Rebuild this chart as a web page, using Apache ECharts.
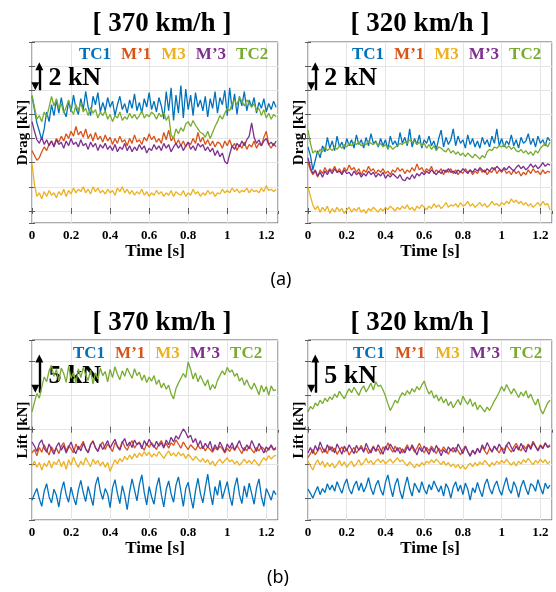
<!DOCTYPE html>
<html>
<head>
<meta charset="utf-8">
<script src="https://cdn.jsdelivr.net/npm/echarts@6/dist/echarts.min.js"></script>
<style>
  html, body { margin: 0; padding: 0; background: #ffffff; }
  #chart { width: 556px; height: 592px; }
</style>
</head>
<body>
<div id="chart"></div>
<script>
// Sampling step of every force history [s]
const timeStep = 0.0125;
const xTickValues = [0, 0.2, 0.4, 0.6, 0.8, 1, 1.2];
const lineNames = ['TC1', 'M’1', 'M3', 'M’3', 'TC2'];
const lineColors = ['#0072BD', '#D95319', '#EDB120', '#7E2F8E', '#77AC30'];
const panelTitles = ['[ 370 km/h ]', '[ 320 km/h ]', '[ 370 km/h ]', '[ 320 km/h ]'];
const scaleBarLabels = ['2 kN', '2 kN', '5 kN', '5 kN'];
const scaleBarSpans = [[10, 12], [10, 12], [5.4, 10.4], [5.4, 10.4]];

// ---- Drag, 370 km/h [kN] ----
const drag370TC1 = [9.5,8.4,7.3,6.6,5.9,6.8,8.2,7.4,8.8,7.9, 9.2,8.1,9.4,8.3,7.8,9.1,8.2,9.6,8.5,8.0,
  9.3,8.4,9.9,8.6,7.9,9.5,8.8,9.8,8.2,9.0, 8.3,9.4,8.6,9.1,7.9,8.8,9.5,8.4,8.9,8.1,
  9.2,8.5,9.7,8.3,9.0,8.1,9.3,8.6,9.8,8.4, 9.1,8.2,9.4,8.7,7.6,9.9,8.3,10.2,7.5,9.6,
  8.1,10.4,7.7,10.1,8.4,9.6,7.9,9.8,8.6,9.2, 8.3,9.5,7.8,9.3,8.5,9.9,8.1,9.4,8.8,10.0,
  7.9,10.2,8.4,9.7,8.0,9.5,8.7,9.9,8.3,9.2, 8.6,9.4,8.1,9.0,8.5,9.3,8.2,8.9,8.4,9.1, 8.6];
const drag370M1 = [5.0,4.6,4.2,4.4,4.9,5.3,5.0,5.5,5.8,5.4, 6.0,5.7,6.2,5.8,6.4,6.0,6.6,6.2,7.0,6.3,
  6.6,6.1,6.8,6.0,6.4,5.8,6.5,5.9,6.2,5.7, 6.3,5.8,6.1,5.5,6.0,5.6,6.2,5.7,5.9,5.4,
  6.0,5.6,6.3,5.7,5.9,5.5,6.1,5.8,6.4,5.9, 6.2,5.7,6.0,5.6,6.5,5.9,6.7,5.8,6.1,5.5,
  5.9,5.4,5.8,5.3,5.7,5.5,6.0,5.6,6.5,5.7, 6.1,5.5,5.9,5.4,5.8,5.3,5.7,5.6,5.2,5.8,
  5.4,5.9,5.3,5.6,5.0,5.5,5.2,5.7,5.1,5.5, 5.3,5.8,5.2,5.6,5.4,6.1,6.6,5.5,5.2,5.6, 5.3];
const drag370M3 = [3.9,2.2,1.2,1.5,1.0,1.6,1.2,1.7,1.3,1.5, 1.1,1.6,1.3,1.8,1.2,1.7,1.4,1.9,1.5,1.8,
  1.6,2.0,1.5,1.8,1.4,2.0,1.6,1.9,1.5,1.7, 1.4,1.8,1.5,1.7,1.3,1.9,1.6,2.0,1.5,1.8,
  1.4,1.7,1.3,1.6,1.4,1.8,1.3,1.6,1.2,1.5, 1.3,1.7,1.4,1.6,1.2,1.5,1.3,1.7,1.2,1.6,
  1.4,1.3,1.7,1.2,1.5,1.3,1.8,1.4,1.6,1.2, 1.5,1.3,1.7,1.4,1.6,1.2,1.5,1.4,1.8,1.5,
  1.7,1.5,1.9,1.6,1.8,1.5,1.7,1.6,1.9,1.5, 1.8,1.6,1.7,1.5,1.9,1.6,2.1,1.7,1.8,1.6, 1.8];
const drag370M3p = [7.4,6.6,5.9,5.6,6.1,5.5,5.9,5.4,5.8,5.3, 5.9,5.5,5.7,5.2,5.8,5.4,6.0,5.5,5.7,5.3,
  5.9,5.4,5.6,5.1,5.7,5.3,5.6,5.0,5.5,5.2, 5.6,5.1,5.4,5.0,5.5,4.9,5.3,5.1,5.6,5.0,
  5.4,4.9,5.3,5.0,5.5,5.1,5.4,4.8,5.2,5.0, 5.5,5.1,5.4,5.0,5.6,5.2,5.5,4.9,5.3,5.6,
  5.2,5.5,5.0,5.4,5.7,5.1,5.4,5.0,5.6,5.3, 5.5,5.0,5.3,4.9,5.2,4.6,5.0,4.5,4.8,4.1,
  3.9,4.7,5.4,5.1,5.6,5.3,5.8,5.4,5.9,6.2, 7.3,6.1,5.6,5.9,5.4,5.8,6.0,5.5,5.7,5.4, 5.8];
const drag370TC2 = [9.6,8.6,7.6,7.9,7.4,8.2,7.8,8.6,9.5,8.7, 9.3,8.5,8.9,8.1,8.6,9.2,8.4,8.0,8.8,8.3,
  9.0,8.2,8.5,7.9,8.6,8.1,8.4,7.7,8.2,7.9, 8.3,7.6,8.0,7.4,7.9,7.7,8.2,7.5,7.8,7.6,
  8.1,7.7,8.0,7.6,7.9,8.3,7.7,8.0,7.8,8.2, 8.0,7.6,8.1,7.8,8.2,7.5,7.9,6.3,6.0,6.8,
  6.4,6.9,6.6,7.2,7.4,7.0,7.5,7.1,6.8,6.5, 6.4,6.1,6.6,6.0,6.5,7.0,7.4,7.9,7.6,8.1,
  8.5,8.3,8.9,9.2,8.8,9.4,9.1,8.7,9.2,8.9, 8.6,8.9,8.3,8.5,7.9,8.4,7.7,8.1,7.6,8.0, 7.8];

// ---- Drag, 320 km/h [kN] ----
const drag320TC1 = [5.3,4.6,3.4,4.2,5.0,4.4,5.4,4.9,6.1,5.2, 5.8,5.0,6.2,5.3,5.7,5.1,6.0,5.4,5.9,5.2,
  6.3,5.5,5.9,5.2,6.1,5.4,6.4,5.6,5.8,5.3, 6.0,5.4,5.9,5.1,6.2,5.5,5.8,5.3,6.5,5.6,
  6.1,5.4,6.8,5.3,6.0,5.5,6.3,5.2,5.9,5.6, 6.2,5.4,5.8,5.1,6.0,6.7,5.3,6.1,5.5,5.9,
  6.8,5.4,6.2,5.6,5.9,5.2,6.3,5.5,6.0,5.3, 5.8,5.2,6.1,5.5,5.9,5.3,6.2,5.6,6.8,5.4,
  6.0,5.3,5.8,5.5,6.3,5.4,5.9,5.2,6.1,5.6, 5.8,6.4,5.5,6.0,5.3,6.2,5.6,5.9,5.4,6.1, 5.8];
const drag320M1 = [4.0,3.4,3.0,3.3,2.8,3.4,3.1,3.6,3.2,3.5, 3.3,3.7,3.2,3.5,3.1,3.6,3.3,3.8,3.4,3.6,
  3.2,3.5,3.0,3.4,3.2,3.7,3.3,3.5,3.1,3.4, 3.2,3.5,3.1,3.3,3.0,3.4,3.2,3.6,3.3,3.5,
  3.1,3.4,3.2,3.6,3.3,3.9,3.4,3.6,3.2,3.5, 3.3,3.7,3.1,3.4,3.2,3.5,3.0,3.4,3.2,3.5,
  3.1,3.4,3.0,3.3,3.1,3.5,3.2,3.4,3.0,3.3, 3.1,3.5,3.2,3.4,3.0,3.3,3.2,3.6,3.1,3.4,
  3.2,3.5,3.1,3.3,3.0,3.4,3.1,3.3,2.9,3.2, 3.0,3.4,3.1,3.5,3.2,3.3,3.0,3.4,3.1,3.3, 3.2];
const drag320M3 = [2.0,1.2,0.5,0.1,0.4,-0.1,0.3,0.0,0.4,-0.2, 0.2,-0.1,0.3,0.0,0.2,-0.2,0.1,0.3,-0.1,0.2,
  0.0,0.3,-0.1,0.1,-0.2,0.2,0.0,0.3,0.1,-0.1, 0.2,0.0,0.3,0.1,0.4,0.2,0.0,0.3,0.1,0.4,
  0.2,0.5,0.1,0.3,0.0,0.4,0.2,0.5,0.3,0.1, 0.4,0.2,0.6,0.3,0.5,0.2,0.4,0.7,0.3,0.5,
  0.4,0.6,0.3,0.7,0.4,0.5,0.8,0.4,0.6,0.3, 0.5,0.7,0.4,0.6,0.3,0.5,0.8,0.5,0.6,0.4,
  0.7,0.5,0.8,0.6,1.0,0.7,0.9,0.6,0.8,0.5, 0.7,0.4,0.6,0.3,0.5,0.7,0.4,0.8,0.5,0.6, 0.1];
const drag320M3p = [4.4,3.6,3.1,3.4,2.9,3.2,2.8,3.3,3.0,3.4, 3.1,3.5,3.2,3.3,3.0,3.4,3.1,3.2,2.9,3.3,
  3.0,3.2,2.8,3.1,2.9,3.3,3.0,3.2,2.8,3.1, 2.9,3.2,2.7,3.0,2.8,3.1,2.9,2.7,3.0,2.6,
  2.5,2.8,2.6,3.0,2.7,3.1,2.9,3.2,3.0,3.3, 3.1,3.4,3.2,3.0,3.3,3.1,3.4,3.2,3.5,3.2,
  3.3,3.1,3.4,3.2,3.5,3.3,3.1,3.4,3.2,3.5, 3.3,3.6,3.4,3.2,3.5,3.3,3.6,3.4,3.7,3.5,
  3.3,3.6,3.4,3.7,3.5,3.3,3.6,3.8,3.5,3.7, 3.4,3.6,3.9,3.6,3.8,3.5,3.7,4.0,3.7,3.9, 3.8];
const drag320TC2 = [6.7,5.6,4.8,5.0,4.7,5.1,4.9,5.3,5.0,5.2, 5.0,5.3,5.1,5.4,5.2,5.5,5.3,5.6,5.4,5.7,
  5.5,5.7,5.4,5.6,5.5,5.8,5.6,5.5,5.7,5.4, 5.6,5.3,5.5,5.2,5.4,5.1,5.3,5.4,5.6,5.5,
  5.7,5.6,5.9,5.7,5.8,5.5,5.7,5.4,5.6,5.2, 5.5,5.1,5.4,5.0,5.3,5.2,5.0,4.9,5.2,4.8,
  5.0,4.7,4.9,4.6,4.8,4.5,4.8,4.6,4.4,4.7, 4.5,4.3,4.6,4.4,4.9,5.1,5.0,5.3,5.2,5.4,
  5.3,5.5,5.2,5.4,5.1,5.3,5.0,4.9,5.1,4.8, 5.0,4.7,4.9,4.6,5.0,4.8,5.2,5.4,5.6,5.3, 5.7];

// ---- Lift, 370 km/h [kN] ----
const lift370TC1 = [-10.3,-9.4,-8.6,-10.1,-11.2,-9.0,-7.9,-9.8,-10.7,-8.7, -9.6,-11.3,-8.9,-7.6,-9.5,-10.6,-8.4,-9.9,-11.0,-8.8,
  -7.4,-9.2,-10.5,-8.3,-9.7,-11.1,-8.1,-6.9,-9.0,-10.2, -8.6,-9.4,-11.4,-8.5,-7.3,-9.3,-10.8,-8.2,-9.6,-11.7,
  -9.1,-7.2,-8.8,-10.4,-8.0,-6.6,-9.2,-11.0,-8.3,-9.8, -10.9,-8.4,-7.0,-9.5,-11.3,-8.7,-7.5,-9.4,-10.6,-8.1,
  -6.9,-9.0,-11.2,-8.6,-7.7,-9.8,-11.5,-8.9,-7.1,-9.3, -10.7,-8.5,-6.5,-9.1,-11.0,-8.3,-9.6,-7.4,-10.1,-8.8,
  -7.6,-9.7,-11.1,-8.4,-7.0,-9.5,-10.8,-8.2,-9.9,-7.8, -9.3,-10.9,-8.5,-7.2,-9.8,-11.2,-8.6,-9.4,-10.3,-8.9, -9.5];
const lift370M1 = [-3.4,-2.9,-3.8,-2.6,-3.3,-2.2,-3.0,-3.7,-2.5,-3.2, -2.7,-3.5,-2.4,-1.9,-3.1,-2.3,-2.8,-3.4,-2.1,-2.9,
  -2.4,-1.7,-2.8,-3.3,-2.2,-1.6,-2.7,-3.1,-2.3,-1.8, -2.9,-2.1,-2.6,-3.2,-1.9,-2.4,-2.8,-1.7,-2.5,-3.0,
  -2.2,-1.6,-2.7,-2.1,-1.8,-2.5,-3.0,-2.0,-2.6,-1.9, -2.4,-2.9,-2.1,-1.6,-2.5,-2.0,-2.7,-1.9,-2.3,-1.5,
  -2.1,-2.7,-1.8,-2.4,-2.9,-2.2,-2.6,-3.0,-2.3,-2.8, -2.4,-3.1,-2.5,-2.9,-3.3,-2.6,-3.0,-2.4,-2.8,-3.4,
  -2.7,-3.2,-2.5,-3.0,-2.3,-2.9,-3.5,-2.6,-3.1,-2.4, -2.9,-3.4,-2.6,-3.1,-2.5,-2.8,-3.3,-2.7,-2.4,-3.0, -2.8];
const lift370M3 = [-5.3,-4.6,-5.5,-4.8,-5.9,-4.9,-5.4,-4.5,-5.6,-4.7, -5.1,-4.3,-5.4,-4.6,-5.8,-4.4,-5.2,-4.0,-4.9,-5.5,
  -4.6,-5.2,-4.1,-4.8,-5.4,-4.3,-5.0,-4.5,-5.3,-4.7, -5.5,-4.8,-6.1,-5.2,-4.4,-5.0,-4.2,-4.7,-3.9,-4.4,
  -3.7,-4.3,-3.5,-4.1,-3.4,-3.9,-3.2,-3.8,-3.3,-4.0, -3.5,-3.9,-3.2,-3.7,-4.2,-3.6,-3.1,-3.8,-3.4,-3.9,
  -3.3,-3.8,-3.5,-4.2,-3.6,-4.0,-4.5,-3.9,-4.3,-4.7, -4.2,-4.8,-4.4,-5.1,-4.6,-5.3,-4.7,-4.3,-4.9,-4.5,
  -4.1,-4.7,-4.4,-5.0,-4.6,-5.2,-4.8,-4.3,-4.9,-4.5, -5.0,-4.4,-4.8,-5.3,-4.6,-4.1,-4.5,-3.8,-4.3,-3.9, -3.7];
const lift370M3p = [-1.8,-2.4,-3.2,-2.0,-1.5,-2.7,-3.3,-2.1,-2.9,-3.6, -2.5,-1.9,-3.0,-2.3,-3.4,-2.6,-1.8,-2.9,-3.5,-2.4,
  -3.1,-2.0,-2.8,-3.4,-2.2,-1.7,-2.6,-3.2,-2.1,-2.9, -2.3,-1.6,-2.7,-2.0,-1.4,-2.5,-3.0,-1.9,-1.3,-2.4,
  -1.8,-2.6,-1.5,-2.2,-1.9,-2.8,-1.6,-2.3,-1.4,-2.1, -2.6,-1.7,-2.4,-1.9,-2.7,-1.5,-2.2,-1.1,-1.8,-0.9,
  -1.4,-0.6,0.1,-0.4,-1.2,-0.8,-1.9,-1.3,-2.4,-1.6, -2.8,-2.0,-2.6,-1.7,-3.1,-2.2,-2.9,-1.8,-2.5,-3.3,
  -2.1,-2.7,-1.9,-3.0,-2.3,-1.6,-2.6,-3.1,-2.2,-2.8, -1.6,-2.4,-3.2,-2.0,-2.7,-3.4,-2.5,-3.0,-2.2,-2.9, -2.6];
const lift370TC2 = [2.6,4.0,5.3,4.6,6.2,7.7,7.0,8.6,9.4,7.8, 8.8,7.1,9.0,8.2,6.9,9.3,7.5,8.4,6.8,8.9,
  7.6,9.1,8.0,7.2,8.7,6.7,8.3,7.4,9.0,7.9, 8.5,7.0,8.8,7.6,9.2,8.1,7.3,8.6,7.8,9.0,
  8.2,7.5,8.9,7.9,8.4,7.2,8.0,6.9,7.7,7.1, 7.9,6.6,7.3,6.1,6.8,5.9,6.5,5.2,4.5,6.0,
  6.8,7.5,8.2,7.6,9.9,8.8,7.4,8.3,7.0,7.9, 7.1,6.4,7.3,5.8,6.6,6.0,7.2,7.9,8.6,8.0,
  9.1,8.4,8.7,7.8,8.2,7.1,7.6,6.5,7.3,6.4, 5.9,6.8,6.0,5.1,6.5,5.5,6.3,5.0,6.4,5.7, 5.8];

// ---- Lift, 320 km/h [kN] ----
const lift320TC1 = [-8.7,-9.3,-10.0,-9.1,-8.3,-9.5,-8.6,-9.2,-7.9,-8.8, -8.1,-9.0,-7.6,-8.5,-9.3,-8.0,-7.2,-8.7,-9.4,-8.2,
  -7.5,-8.9,-7.8,-9.1,-8.3,-7.0,-8.6,-9.5,-8.1,-7.4, -8.8,-9.6,-7.7,-6.6,-8.4,-9.8,-8.0,-7.1,-9.0,-10.1,
  -8.3,-6.9,-8.6,-9.7,-7.8,-8.5,-9.2,-7.6,-8.7,-9.4, -8.0,-8.8,-7.5,-8.3,-9.1,-8.2,-9.7,-7.9,-8.6,-10.0,
  -8.4,-7.6,-9.0,-8.1,-9.5,-7.8,-8.7,-10.3,-8.5,-9.2, -7.7,-8.9,-9.8,-8.0,-7.2,-8.6,-9.4,-8.2,-7.5,-8.8,
  -9.6,-8.1,-7.0,-8.7,-9.3,-7.6,-8.4,-9.9,-8.3,-7.4, -8.6,-9.5,-7.9,-8.2,-9.0,-7.3,-8.5,-9.4,-7.8,-8.6, -8.1];
const lift320M1 = [-4.1,-3.5,-2.9,-3.7,-3.1,-2.6,-3.4,-2.8,-3.5,-2.4, -3.2,-2.7,-3.6,-3.0,-2.5,-3.3,-2.8,-3.7,-3.1,-2.6,
  -3.4,-2.9,-2.3,-3.1,-2.7,-3.5,-3.0,-2.4,-3.2,-2.8, -3.6,-2.5,-3.0,-1.9,-2.7,-3.3,-2.4,-3.1,-2.6,-3.4,
  -2.9,-2.2,-3.0,-2.5,-3.3,-2.7,-2.0,-2.8,-3.4,-2.6, -3.1,-2.4,-2.9,-3.5,-2.7,-3.2,-2.5,-3.0,-3.6,-2.8,
  -3.3,-2.6,-3.1,-3.7,-2.9,-2.4,-3.2,-3.8,-3.0,-3.5, -2.8,-3.3,-2.5,-3.1,-3.6,-2.7,-3.2,-2.4,-2.9,-3.4,
  -2.6,-3.0,-2.2,-2.8,-3.3,-2.5,-2.0,-2.7,-3.1,-2.3, -2.8,-2.1,-2.6,-1.7,-2.4,-3.0,-2.2,-2.7,-1.9,-2.5, -2.2];
const lift320M3 = [-4.6,-5.3,-5.9,-5.0,-4.4,-5.2,-4.6,-5.5,-4.8,-5.4, -4.9,-5.6,-5.1,-4.5,-5.3,-4.7,-5.5,-5.0,-4.6,-5.4,
  -5.0,-4.4,-5.2,-4.8,-4.2,-4.9,-4.5,-5.1,-4.6,-4.3, -4.8,-4.4,-5.0,-4.6,-4.3,-4.9,-4.5,-4.1,-4.7,-4.4,
  -4.9,-5.3,-4.7,-5.1,-5.6,-5.0,-5.4,-4.8,-5.2,-4.6, -4.9,-4.4,-4.8,-4.3,-4.7,-5.1,-4.6,-5.2,-4.8,-5.4,
  -5.0,-5.5,-5.1,-5.7,-5.2,-5.8,-5.3,-4.9,-5.4,-4.8, -5.3,-4.7,-5.1,-4.5,-4.9,-5.4,-4.8,-5.2,-4.6,-5.0,
  -4.5,-4.9,-4.3,-4.8,-5.2,-4.7,-5.3,-4.6,-5.0,-4.4, -4.8,-4.2,-4.7,-5.1,-4.5,-4.9,-4.3,-4.8,-4.4,-5.0, -4.6];
const lift320M3p = [-3.4,-2.6,-3.5,-2.3,-3.1,-1.8,-2.7,-3.3,-2.2,-3.0, -2.5,-3.4,-2.1,-2.8,-3.6,-2.4,-3.1,-2.2,-2.9,-3.5,
  -2.3,-3.0,-2.6,-3.3,-2.0,-2.8,-3.4,-2.5,-3.1,-2.2, -2.9,-3.6,-2.4,-3.0,-2.1,-2.7,-3.3,-2.6,-3.5,-2.8,
  -3.4,-2.5,-3.1,-2.2,-2.9,-3.7,-2.6,-3.2,-2.4,-3.0, -3.6,-2.7,-3.3,-2.3,-3.0,-3.8,-2.9,-3.4,-2.5,-3.1,
  -2.6,-3.3,-2.1,-2.8,-3.5,-2.4,-3.2,-3.9,-3.0,-3.6, -2.7,-3.4,-2.2,-2.9,-1.9,-2.6,-3.3,-2.4,-3.0,-2.1,
  -2.8,-3.5,-2.3,-1.8,-2.6,-3.2,-2.4,-3.0,-2.0,-2.7, -3.3,-2.2,-2.9,-1.9,-2.5,-3.1,-2.3,-2.8,-2.0,-2.6, -2.4];
const lift320TC2 = [2.6,3.4,3.0,3.9,3.5,4.3,3.8,4.6,4.1,4.8, 4.4,5.2,4.7,5.6,5.0,4.5,5.3,6.0,5.4,6.2,
  5.6,5.0,5.9,6.4,5.5,6.1,6.8,5.8,7.0,6.3, 6.5,5.8,4.9,3.8,2.8,3.5,4.3,3.9,4.8,5.4,
  5.0,5.7,5.2,6.0,5.5,6.3,5.8,6.5,7.1,6.0, 5.2,5.7,4.6,5.1,4.2,4.8,3.9,4.5,3.5,4.1,
  3.2,3.8,4.4,3.6,4.9,4.2,3.7,4.5,3.4,4.0, 2.9,3.6,3.1,2.6,3.3,2.8,3.5,4.2,4.8,5.5,
  6.3,5.6,6.6,5.9,5.2,6.0,5.4,4.7,5.5,4.9, 5.7,4.6,5.2,4.3,3.6,4.5,3.0,2.3,3.1,3.9, 4.3];

// Series order per panel follows lineNames
const panelSeries = [
  [drag370TC1, drag370M1, drag370M3, drag370M3p, drag370TC2],
  [drag320TC1, drag320M1, drag320M3, drag320M3p, drag320TC2],
  [lift370TC1, lift370M1, lift370M3, lift370M3p, lift370TC2],
  [lift320TC1, lift320M1, lift320M3, lift320M3p, lift320TC2]
];

const SERIF = "'Liberation Serif', 'Times New Roman', 'DejaVu Serif', serif";
const AXIS_COLOR = '#5a5a5a';
const GRID_COLOR = '#e4e4e4';

// Layout of the four panels (a: drag, b: lift)
const panelLayout = [
  { grid: { left: 32, top: 42, width: 246, height: 181 }, yName: 'Drag [kN]', yMin: -1, yMax: 14, yStep: 2,
    title: [162, 11], legend: [74, 46], barX: 0.0375, textX: 0.084, textY: 11 },
  { grid: { left: 308, top: 42, width: 244, height: 181 }, yName: 'Drag [kN]', yMin: -1, yMax: 14, yStep: 2,
    title: [420, 11], legend: [347, 46], barX: 0.0375, textX: 0.084, textY: 11 },
  { grid: { left: 32, top: 340, width: 246, height: 180 }, yName: 'Lift [kN]', yMin: -13.2, yMax: 13.1, yStep: 5,
    title: [162, 310], legend: [68, 345], barX: 0.0375, textX: 0.084, textY: 7.8 },
  { grid: { left: 308, top: 340, width: 244, height: 180 }, yName: 'Lift [kN]', yMin: -13.2, yMax: 13.1, yStep: 5,
    title: [420, 310], legend: [348, 345], barX: 0.0375, textX: 0.084, textY: 7.8 }
];

const grids = [], xAxes = [], yAxes = [], series = [], legends = [], titles = [];

panelLayout.forEach((p, i) => {
  grids.push(Object.assign({ show: true, borderColor: AXIS_COLOR, borderWidth: 1, backgroundColor: '#fff' }, p.grid));

  const xBase = {
    gridIndex: i, type: 'value', min: 0, max: 1.26, interval: 0.2,
    axisLine: { show: false },
    axisTick: { show: true, inside: true, length: 3, lineStyle: { color: AXIS_COLOR } }
  };
  xAxes.push(Object.assign({}, xBase, {
    position: 'bottom',
    name: 'Time [s]', nameLocation: 'middle', nameGap: 20,
    nameTextStyle: { fontFamily: SERIF, fontWeight: 'bold', fontSize: 17, color: '#000' },
    axisLabel: { margin: 6, fontFamily: SERIF, fontWeight: 'bold', fontSize: 13, color: '#000', showMaxLabel: false,
      formatter: v => (xTickValues.some(t => Math.abs(t - v) < 1e-6) ? String(+v.toFixed(1)) : '') },
    splitLine: { show: true, lineStyle: { color: GRID_COLOR, width: 1 } }
  }));
  xAxes.push(Object.assign({}, xBase, { position: 'top', axisLabel: { show: false }, splitLine: { show: false } }));

  const yBase = {
    gridIndex: i, type: 'value', min: p.yMin, max: p.yMax, minInterval: p.yStep, maxInterval: p.yStep,
    axisLine: { show: false }, axisLabel: { show: false },
    axisTick: { show: true, inside: true, length: 3, lineStyle: { color: AXIS_COLOR } }
  };
  yAxes.push(Object.assign({}, yBase, {
    position: 'left',
    name: p.yName, nameLocation: 'middle', nameGap: 1,
    nameTextStyle: { fontFamily: SERIF, fontWeight: 'bold', fontSize: 15, color: '#000' },
    splitLine: { show: true, lineStyle: { color: GRID_COLOR, width: 1 } }
  }));
  yAxes.push(Object.assign({}, yBase, { position: 'right', splitLine: { show: false } }));

  panelSeries[i].forEach((values, k) => {
    const s = {
      type: 'line', name: lineNames[k], xAxisIndex: 2 * i, yAxisIndex: 2 * i,
      data: values.map((v, j) => [+(j * timeStep).toFixed(4), v]),
      showSymbol: false, symbol: 'none', smooth: false,
      lineStyle: { color: lineColors[k], width: 1.3 }, itemStyle: { color: lineColors[k] },
      emphasis: { disabled: true }, silent: true, z: 2 + k
    };
    if (k === lineNames.length - 1) {
      // Scale bar with its magnitude, drawn in data units of the panel
      s.markLine = {
        silent: true, symbol: ['triangle', 'triangle'], symbolSize: [8, 8], symbolOffset: [4, 0], precision: 2,
        lineStyle: { color: '#000', width: 2.4, type: 'solid' }, label: { show: false },
        emphasis: { disabled: true },
        data: [[{ coord: [p.barX, scaleBarSpans[i][0]] }, { coord: [p.barX, scaleBarSpans[i][1]] }]]
      };
      s.markPoint = {
        silent: true, symbol: 'circle', symbolSize: 0,
        label: { show: true, position: 'right', distance: 0, formatter: scaleBarLabels[i],
          fontFamily: SERIF, fontWeight: 'bold', fontSize: 26, color: '#000' },
        data: [{ coord: [p.textX, p.textY] }]
      };
    }
    series.push(s);
  });

  legends.push({
    left: p.legend[0], top: p.legend[1], padding: 0, orient: 'horizontal',
    icon: 'none', itemWidth: 0, itemHeight: 14, itemGap: 5, selectedMode: false,
    textStyle: { fontFamily: SERIF, fontWeight: 'bold', fontSize: 17 },
    data: lineNames.map((n, k) => ({ name: n, textStyle: { color: lineColors[k] } }))
  });

  titles.push({
    text: panelTitles[i], left: p.title[0], top: p.title[1], textAlign: 'center', padding: 0,
    textStyle: { fontFamily: SERIF, fontWeight: 'bold', fontSize: 27, color: '#000' }
  });
});

titles.push({ text: '(a)', left: 281, top: 271, textAlign: 'center', padding: 0,
  textStyle: { fontFamily: "'Noto Sans', sans-serif", fontWeight: 'normal', fontSize: 18, color: '#000' } });
titles.push({ text: '(b)', left: 278, top: 569, textAlign: 'center', padding: 0,
  textStyle: { fontFamily: "'Noto Sans', sans-serif", fontWeight: 'normal', fontSize: 18, color: '#000' } });

const chart = echarts.init(document.getElementById('chart'), null, { renderer: 'canvas' });
chart.setOption({
  animation: false,
  backgroundColor: '#ffffff',
  title: titles,
  legend: legends,
  grid: grids,
  xAxis: xAxes,
  yAxis: yAxes,
  series: series
});
</script>
</body>
</html>
